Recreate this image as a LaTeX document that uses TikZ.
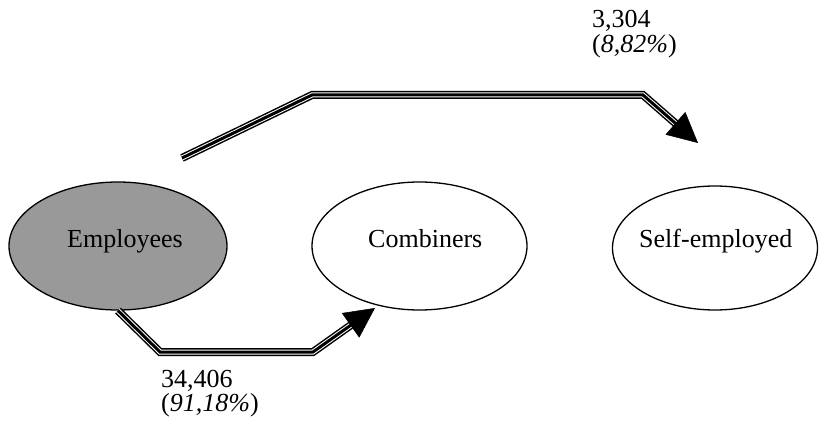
\documentclass[tikz,border=0pt]{standalone}
\usepackage{fontspec}
\setmainfont{Liberation Serif}
\usetikzlibrary{shapes.geometric,arrows.meta,calc}
\definecolor{empgray}{RGB}{153,153,153}
\begin{document}
\begin{tikzpicture}[x=1pt,y=-1pt,
  ell/.style={draw=black, line width=1.3pt, ellipse, inner sep=0pt},
  lbl/.style={font=\fontsize{26}{25}\selectfont, anchor=base west, inner sep=0pt},
  tripleline/.style={line width=3pt, line join=miter,
    preaction={draw, black, line width=8pt},
    preaction={draw, white, line width=5pt}},
  tiparrow/.style={-{Triangle[length=30pt,width=30pt]}, line width=0.5pt}
]
\useasboundingbox (0,0) rectangle (819,425);
% ellipses
\node[ell, fill=empgray, minimum width=218pt, minimum height=128pt] (emp) at (118,246) {};
\node[ell, minimum width=215pt, minimum height=128pt] (comb) at (419.5,246) {};
\node[ell, minimum width=205pt, minimum height=124pt] (self) at (715,248) {};
% texts
\node[lbl] (empT) at (67,247) {Employees};
\node[lbl] (combT) at (368,247) {Combiners};
\node[lbl] (selfT) at (639,247) {Self-employed};
% top connector
\coordinate (a1) at (182,158);
\coordinate (a2) at (312,95);
\coordinate (a3) at (643,95);
\coordinate (a4) at (698,143);
\draw[tripleline] (a1) -- (a2) -- (a3) -- ($(a4)!28pt!(a3)$);
\draw[tiparrow] ($(a4)!29pt!(a3)$) -- (a4);
% bottom connector
\coordinate (b1) at (160,352);
\coordinate (b2) at (313,352);
\coordinate (b3) at (375,308);
\draw[tripleline] (emp.south) -- (b1) -- (b2) -- ($(b3)!28pt!(b2)$);
\draw[tiparrow] ($(b3)!29pt!(b2)$) -- (b3);
% labels
\node[lbl] (n1) at (592,28) {3,304};
\node[lbl] (n1p) at (592,53) {(\textit{8,82\%})};
\node[lbl] (n2) at (161,387) {34,406};
\node[lbl] (n2p) at (161,411) {(\textit{91,18\%})};
\end{tikzpicture}
\end{document}
